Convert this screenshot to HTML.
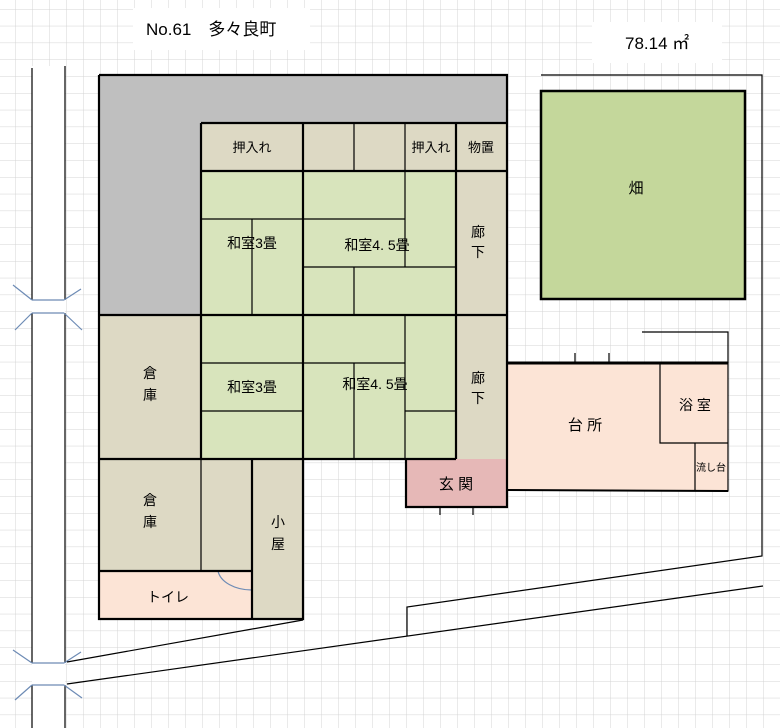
<!DOCTYPE html>
<html><head><meta charset="utf-8"><style>
body{margin:0;background:#fff}
svg{display:block}
text{font-family:"Liberation Sans","Noto Sans CJK JP",sans-serif;fill:#000}
</style></head><body>
<svg width="780" height="728" viewBox="0 0 780 728" xmlns="http://www.w3.org/2000/svg">
<defs>
<pattern id="g" x="15" y="9" width="17" height="16.8" patternUnits="userSpaceOnUse">
<path d="M0 0H17M0 0V16.8" stroke="#d4d4d4" stroke-width="1" fill="none"/>
</pattern>
</defs>
<rect width="780" height="728" fill="#fff"/>
<rect width="780" height="728" fill="url(#g)"/>
<rect x="133" y="8" width="177" height="42" fill="#fff"/>
<text x="146" y="35" font-size="17">No.61　多々良町</text>
<rect x="592" y="22" width="130" height="41" fill="#fff"/>
<text x="625" y="49" font-size="17">78.14 ㎡</text>
<rect x="32" y="66" width="33" height="662" fill="#fff"/>
<g stroke="#000" stroke-width="1.2">
<path d="M32 68V300M65 66V300M32 313V663M65 313V663M32 685V728M65 685V728"/>
</g>
<g stroke="#6d8bb5" stroke-width="1.2" fill="none">
<path d="M32 300H64M32 300L13 285M64 300L81 289M32 313H64M32 313L15 330M64 313L82 330"/>
<path d="M32 663H64M32 663L13 650M64 663L81 652M32 685H64M32 685L15 700M64 685L82 698"/>
</g>
<g stroke="#000" stroke-width="1.2" fill="none">
<path d="M541 75H762V556L407 607V636"/>
<path d="M763 586L67 684"/>
<path d="M303 620L67 662"/>
<path d="M642 332H728V363"/>
<path d="M575 353V363M609 353V363M440 507V515M473 507V515"/>
</g>
<rect x="541" y="91" width="204" height="208" fill="#c4d79b" stroke="#000" stroke-width="2.5"/>
<text x="636" y="193" font-size="15" text-anchor="middle">畑</text>
<path d="M507 363H728V491L507 490Z" fill="#fce4d6" stroke="#000" stroke-width="1.2"/>
<path d="M507 363H728" stroke="#000" stroke-width="3"/>
<path d="M507 490L728 491" stroke="#000" stroke-width="2"/>
<path d="M660 363V443H728M695 443V491" stroke="#000" stroke-width="1.2" fill="none"/>
<text x="585" y="430" font-size="15" text-anchor="middle">台 所</text>
<text x="695" y="410" font-size="14" text-anchor="middle">浴 室</text>
<text x="711" y="471" font-size="10" text-anchor="middle">流し台</text>
<path d="M99 75H507V123H201V315H99Z" fill="#bfbfbf"/>
<g fill="#ddd9c4">
<rect x="201" y="123" width="306" height="48"/>
<rect x="456" y="171" width="51" height="288"/>
<rect x="99" y="315" width="102" height="144"/>
<rect x="99" y="459" width="204" height="112"/>
<rect x="252" y="459" width="51" height="160"/>
</g>
<rect x="201" y="171" width="255" height="288" fill="#d8e4bc"/>
<rect x="99" y="571" width="153" height="48" fill="#fce4d6"/>
<rect x="406" y="459" width="101" height="48" fill="#e6b8b7"/>
<g stroke="#000" stroke-width="1.2" fill="none">
<path d="M303 123V171M354 123V171M405 123V171"/>
<path d="M201 219H303M252 219V315"/>
<path d="M303 219H405M405 171V267M303 267H456M354 267V315"/>
<path d="M201 363H303M201 411H303"/>
<path d="M303 363H405M405 315V459M405 411H456M354 363V459"/>
<path d="M201 459V571"/>
<path d="M218 571A34 22 0 0 0 252 590" stroke="#6d8bb5"/>
</g>
<g stroke="#000" stroke-width="2.2" fill="none">
<path d="M99 75H507V459"/>
<path d="M99 75V619H303V459"/>
<path d="M201 123H507M201 123V315M99 315H507M303 123V459M456 123V459M201 171H507M201 315V459M99 459H456"/>
<path d="M252 459V619M99 571H252"/>
<path d="M406 459V507H507V459"/>
</g>
<g font-size="14">
<text x="252" y="152" text-anchor="middle" font-size="13">押入れ</text>
<text x="431" y="152" text-anchor="middle" font-size="13">押入れ</text>
<text x="481" y="152" text-anchor="middle" font-size="13">物置</text>
<text x="252" y="248" text-anchor="middle">和室3畳</text>
<text x="377" y="250" text-anchor="middle">和室4. 5畳</text>
<text x="252" y="392" text-anchor="middle">和室3畳</text>
<text x="375" y="389" text-anchor="middle">和室4. 5畳</text>
<text x="478" y="237" text-anchor="middle">廊</text>
<text x="478" y="257" text-anchor="middle">下</text>
<text x="478" y="383" text-anchor="middle">廊</text>
<text x="478" y="403" text-anchor="middle">下</text>
<text x="150" y="378" text-anchor="middle">倉</text>
<text x="150" y="400" text-anchor="middle">庫</text>
<text x="150" y="505" text-anchor="middle">倉</text>
<text x="150" y="527" text-anchor="middle">庫</text>
<text x="278" y="527" text-anchor="middle">小</text>
<text x="278" y="549" text-anchor="middle">屋</text>
<text x="168" y="602" text-anchor="middle">トイレ</text>
<text x="456" y="489" text-anchor="middle" font-size="15">玄 関</text>
</g>
</svg>
</body></html>
